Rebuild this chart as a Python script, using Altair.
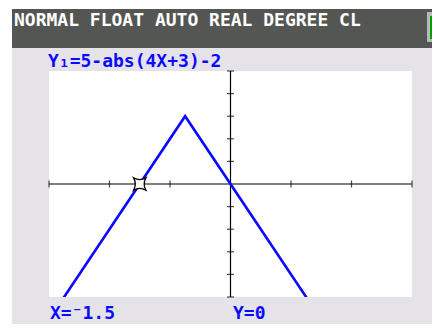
import altair as alt
import pandas as pd

# ---- data (TI-84 graph screen) ----
header_text = "NORMAL FLOAT AUTO REAL DEGREE CL"
func_label = "Y\u2081=5-abs(4X+3)-2"
x_window = [-3, 3]
y_window = [-5, 5]
x_ticks = [-3, -2, -1, 1, 2, 3]
y_ticks = [-5, -4, -3, -2, -1, 1, 2, 3, 4, 5]
line_x = [-3, -0.75, 3]
line_y = [-6, 3, -12]
cursor_x = [-1.5]
cursor_y = [0]

W, H = 363, 226
PAD_L, PAD_T, PAD_R, PAD_B = 41, 63, 20, 27

DARK = "#545653"
SCREEN = "#e6e3e8"
BLUE = "#0a0aff"

xs = alt.Scale(domain=x_window, nice=False, zero=False)
ys = alt.Scale(domain=y_window, nice=False, zero=False)

one = pd.DataFrame({"a": [0]})

def panel(x, x2, y, y2, color):
    return alt.Chart(one).mark_rect(color=color).encode(
        x=alt.value(x), x2=alt.value(x2), y=alt.value(y), y2=alt.value(y2)
    )

# screen decorations (pixel positions relative to the plot origin)
left_strip = panel(-PAD_L, -PAD_L + 4, -PAD_T, H + PAD_B, "white")
top_strip = panel(-PAD_L, W + PAD_R, -PAD_T, -PAD_T + 1, "white")
header = panel(-PAD_L + 4, W + PAD_R, -PAD_T + 1, -PAD_T + 40, DARK)
batt_frame = panel(378, W + PAD_R, -59, -29, "#b8b8b8")
batt_fill = panel(381, W + PAD_R, -55, -32, "#00a000")

header_txt = alt.Chart(pd.DataFrame({"t": [header_text]})).mark_text(
    font="DejaVu Sans Mono", fontWeight="bold", fontSize=18, color="white",
    align="left", baseline="alphabetic"
).encode(text="t:N", x=alt.value(-35), y=alt.value(-45))

func_txt = alt.Chart(pd.DataFrame({"t": [func_label]})).mark_text(
    font="DejaVu Sans Mono", fontWeight="bold", fontSize=18, color=BLUE,
    align="left", baseline="alphabetic"
).encode(text="t:N", x=alt.value(-1), y=alt.value(-4))

axis_x = alt.Chart(pd.DataFrame({"x1": [x_window[0]], "x2": [x_window[1]], "y": [0]})).mark_rule(
    color="black", strokeWidth=1.2
).encode(x=alt.X("x1:Q", scale=xs, axis=None), x2="x2:Q", y=alt.Y("y:Q", scale=ys, axis=None))

axis_y = alt.Chart(pd.DataFrame({"y1": [y_window[0]], "y2": [y_window[1]], "x": [0]})).mark_rule(
    color="black", strokeWidth=1.2
).encode(y=alt.Y("y1:Q", scale=ys, axis=None), y2="y2:Q", x=alt.X("x:Q", scale=xs, axis=None))

xt = alt.Chart(pd.DataFrame({"x": x_ticks, "y": [0] * len(x_ticks)})).mark_tick(
    color="black", orient="vertical", size=7, thickness=1.2
).encode(x=alt.X("x:Q", scale=xs, axis=None), y=alt.Y("y:Q", scale=ys, axis=None))

yt = alt.Chart(pd.DataFrame({"y": y_ticks, "x": [0] * len(y_ticks)})).mark_tick(
    color="black", orient="horizontal", size=7, thickness=1.2
).encode(x=alt.X("x:Q", scale=xs, axis=None), y=alt.Y("y:Q", scale=ys, axis=None))

curve = alt.Chart(pd.DataFrame({"x": line_x, "y": line_y})).mark_line(
    color=BLUE, strokeWidth=2.6, clip=True
).encode(x=alt.X("x:Q", scale=xs, axis=None), y=alt.Y("y:Q", scale=ys, axis=None))

cursor_shape = "M -1 -1 Q 0 -0.45 1 -1 Q 0.45 0 1 1 Q 0 0.45 -1 1 Q -0.45 0 -1 -1 Z"
cursor = alt.Chart(pd.DataFrame({"x": cursor_x, "y": cursor_y})).mark_point(
    shape=cursor_shape, size=150, filled=True, fill="white", stroke="black", strokeWidth=1.3, opacity=1
).encode(x=alt.X("x:Q", scale=xs, axis=None), y=alt.Y("y:Q", scale=ys, axis=None))

cur_df = pd.DataFrame({"xl": ["X=\u207b" + str(abs(cursor_x[0])) if cursor_x[0] < 0 else "X=" + str(cursor_x[0])],
                       "yl": ["Y=" + str(cursor_y[0])]})
xlab = alt.Chart(cur_df).mark_text(
    font="DejaVu Sans Mono", fontWeight="bold", fontSize=18, color=BLUE,
    align="left", baseline="bottom"
).encode(text="xl:N", x=alt.value(1), y=alt.value(H + PAD_B - 1))
ylab = alt.Chart(cur_df).mark_text(
    font="DejaVu Sans Mono", fontWeight="bold", fontSize=18, color=BLUE,
    align="left", baseline="bottom"
).encode(text="yl:N", x=alt.value(184), y=alt.value(H + PAD_B - 1))

chart = alt.layer(
    left_strip, top_strip, header, batt_frame, batt_fill, header_txt, func_txt,
    axis_x, axis_y, xt, yt, curve, cursor, xlab, ylab
).properties(
    width=W, height=H,
    autosize=alt.AutoSizeParams(type="none"),
    padding={"left": PAD_L, "top": PAD_T, "right": PAD_R, "bottom": PAD_B},
).configure(background=SCREEN).configure_view(fill="white", stroke=None)

chart.save("out.html", embed_options={"renderer": "svg", "actions": False})
